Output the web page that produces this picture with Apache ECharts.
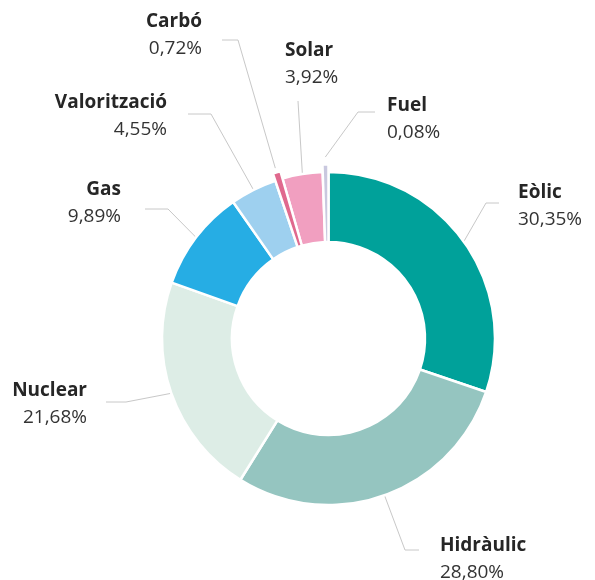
<!DOCTYPE html>
<html>
<head>
<meta charset="utf-8">
<script src="https://cdn.jsdelivr.net/npm/echarts@6/dist/echarts.min.js"></script>
<style>
  body { margin: 0; background: #fff; }
  #chart { width: 595px; height: 580px; }
</style>
</head>
<body>
<div id="chart"></div>
<script>
// chart data
const categories = ['Eòlic', 'Hidràulic', 'Nuclear', 'Gas', 'Valorització', 'Carbó', 'Solar', 'Fuel'];
const shares = [30.35, 28.80, 21.68, 9.89, 4.55, 0.72, 3.92, 0.08];
const colors = ['#00a19a', '#95c5c0', '#ddede6', '#26ade4', '#9ed0ef', '#e0698e', '#f19fc0', '#c9c8df'];
// slices drawn slightly bigger than the ring
const raised = ['Carbó', 'Fuel'];

// where every label sits, and how its guide line bends
const center = [328.5, 338.5];
const labelSpots = {
  'Eòlic':        { x: 518, y: 206, align: 'left',  push: 0,  bend: [486, 203], end: [499, 203] },
  'Hidràulic':    { x: 440, y: 559, align: 'left',  push: 0,  bend: [405, 550], end: [419, 550] },
  'Nuclear':      { x: 87,  y: 404, align: 'right', push: 0,  bend: [126, 402], end: [106, 402] },
  'Gas':          { x: 121, y: 203, align: 'right', push: 0,  bend: [168, 209], end: [145, 209] },
  'Valorització': { x: 167, y: 116, align: 'right', push: 0,  bend: [211, 114], end: [188, 114] },
  'Carbó':        { x: 202, y: 35,  align: 'right', push: 12, bend: [238, 40],  end: [222, 40] },
  'Solar':        { x: 285, y: 64,  align: 'left',  push: 0,  bend: [298, 101], end: [298, 101] },
  'Fuel':         { x: 387, y: 119, align: 'left',  push: 15, bend: [358, 112], end: [375, 112] }
};

const chart = echarts.init(document.getElementById('chart'), null, { renderer: 'canvas' });

const mainData = categories.map((name, i) => ({
  name: name,
  value: shares[i],
  itemStyle: raised.includes(name)
    ? { color: 'transparent', borderWidth: 0 }
    : { color: colors[i] }
}));

const raisedData = categories.map((name, i) => ({
  name: name,
  value: shares[i],
  itemStyle: raised.includes(name)
    ? { color: colors[i], borderColor: '#fff', borderWidth: 2.5 }
    : { color: 'transparent', borderWidth: 0 }
}));

const options = {
  backgroundColor: '#fff',
  animation: false,
  series: [
    {
      type: 'pie',
      center: center,
      radius: [96.5, 166.5],
      startAngle: 90,
      minAngle: 2,
      avoidLabelOverlap: false,
      emphasis: { disabled: true },
      itemStyle: { borderColor: '#fff', borderWidth: 2.5 },
      label: {
        show: true,
        position: 'outside',
        formatter: p => '{n|' + p.name + '}\n{p|' + p.value.toFixed(2).replace('.', ',') + '%}',
        rich: {
          n: { fontFamily: 'Open Sans', fontSize: 19, fontWeight: 'bold', color: '#262626', lineHeight: 27 },
          p: { fontFamily: 'Open Sans', fontSize: 19, color: '#333', lineHeight: 27 }
        }
      },
      labelLine: {
        show: true,
        length: 10,
        length2: 10,
        lineStyle: { color: '#c8c8c8', width: 1 }
      },
      labelLayout: function (params) {
        const name = categories[params.dataIndex];
        const spot = labelSpots[name];
        let start = params.labelLinePoints ? params.labelLinePoints[0] : spot.bend;
        if (spot.push) {
          const dx = start[0] - center[0], dy = start[1] - center[1];
          const r = Math.sqrt(dx * dx + dy * dy);
          const k = (r + spot.push) / r;
          start = [center[0] + dx * k, center[1] + dy * k];
        }
        return {
          x: spot.x,
          y: spot.y,
          align: spot.align,
          verticalAlign: 'middle',
          labelLinePoints: [start, spot.bend, spot.end]
        };
      },
      data: mainData
    },
    {
      type: 'pie',
      center: center,
      radius: [96.5, 174],
      startAngle: 90,
      minAngle: 2,
      silent: true,
      emphasis: { disabled: true },
      label: { show: false },
      labelLine: { show: false },
      data: raisedData
    }
  ]
};

chart.setOption(options);
</script>
</body>
</html>
